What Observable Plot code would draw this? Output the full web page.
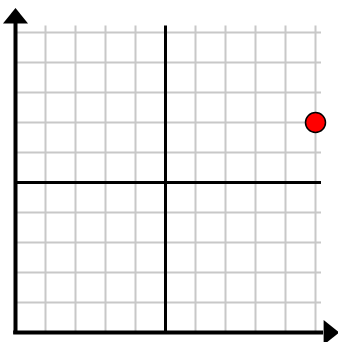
<!DOCTYPE html>
<html>
<head>
<meta charset="utf-8">
<script src="https://cdn.jsdelivr.net/npm/d3@7"></script>
<script src="https://cdn.jsdelivr.net/npm/@observablehq/plot@0.6"></script>
<style>
  html, body { margin: 0; padding: 0; background: #fff; }
  #chart svg { display: block; }
</style>
</head>
<body>
<div id="chart"></div>
<script>
// Grid values (data units)
const gridValues = [-5, -4, -3, -2, -1, 0, 1, 2, 3, 4, 5];
const gridEnd = 5.22;           // graph paper extends slightly past 5
// Plotted point
const pointX = [5];
const pointY = [2];
// Axis arrows: base of arrowhead positions and direction
const arrowX = [-5, 5.27];
const arrowY = [5.3, -5];
const arrowRotate = [0, 90];

const points = pointX.map((x, i) => ({x, y: pointY[i]}));
const arrows = arrowX.map((x, i) => ({x, y: arrowY[i], rotate: arrowRotate[i]}));
const thinGrid = gridValues.filter(v => v !== 0 && v !== -5);

// filled arrowhead symbol anchored at the centre of its base, pointing up
const HEAD_HALF_WIDTH = 12.5, HEAD_LENGTH = 15.5;
const arrowHead = {
  draw(context) {
    context.moveTo(0, -HEAD_LENGTH);
    context.lineTo(HEAD_HALF_WIDTH, 0);
    context.lineTo(-HEAD_HALF_WIDTH, 0);
    context.closePath();
  }
};

const chart = Plot.plot({
  width: 338,
  height: 342,
  margin: 0,
  style: {background: "#fff"},
  x: {domain: [-5, 5], range: [15, 315], axis: null},
  y: {domain: [-5, 5], range: [332, 32], axis: null},
  marks: [
    Plot.ruleX(thinGrid, {y1: -5, y2: gridEnd, stroke: "#c8c8c8", strokeWidth: 2}),
    Plot.ruleY(thinGrid, {x1: -5, x2: gridEnd - 0.02, stroke: "#c8c8c8", strokeWidth: 2}),
    Plot.ruleX([0], {y1: -5, y2: gridEnd, stroke: "#000", strokeWidth: 3}),
    Plot.ruleY([0], {x1: -5, x2: gridEnd - 0.02, stroke: "#000", strokeWidth: 3}),
    Plot.ruleX([-5], {y1: -5.06, y2: arrowY[0], stroke: "#000", strokeWidth: 4}),
    Plot.ruleY([-5], {x1: -5.06, x2: arrowX[1], stroke: "#000", strokeWidth: 4}),
    Plot.dot(arrows, {x: "x", y: "y", rotate: "rotate", symbol: arrowHead, r: 12, fill: "#000", stroke: "none"}),
    Plot.dot(points, {x: "x", y: "y", r: 10, fill: "#ff0000", stroke: "#000", strokeWidth: 1.5})
  ]
});
document.getElementById("chart").appendChild(chart);
</script>
</body>
</html>
